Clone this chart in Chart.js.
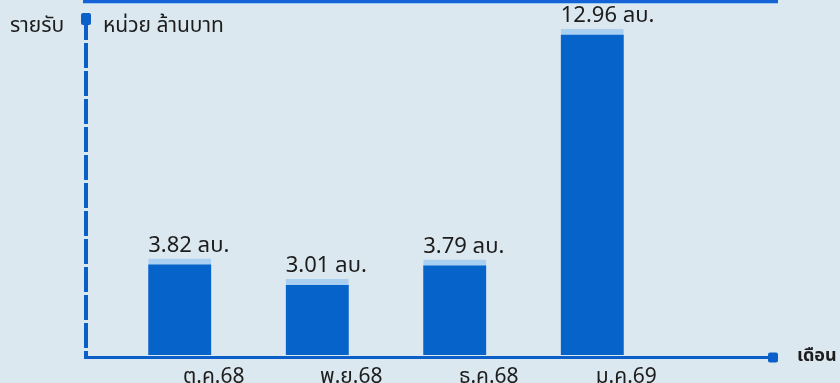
<!DOCTYPE html>
<html>
<head>
<meta charset="utf-8">
<script src="https://cdn.jsdelivr.net/npm/chart.js@4.4.1/dist/chart.umd.min.js"></script>
<style>
  html, body { margin: 0; padding: 0; background: #dce8ef; }
  #wrap { position: relative; width: 840px; height: 383px; overflow: hidden; }
  #topband { position: absolute; left: 83px; top: 0; width: 695px; height: 3px; background: #1462d6; border-bottom: 1px solid #9ccbf2; }
</style>
</head>
<body>
<div id="wrap">
  <div id="topband"></div>
  <canvas id="revChart"></canvas>
</div>
<script>
// data
const months = ['ต.ค.68', 'พ.ย.68', 'ธ.ค.68', 'ม.ค.69'];
const revenue = [3.82, 3.01, 3.79, 12.96];
const valueLabels = ['3.82 ลบ.', '3.01 ลบ.', '3.79 ลบ.', '12.96 ลบ.'];
const yTitle = 'รายรับ';
const unitText = 'หน่วย ล้านบาท';
const xTitle = 'เดือน';

const FONT = '"Noto Sans Thai", "Noto Sans", "DejaVu Sans", sans-serif';
const AXIS_BLUE = '#0a5fc9';

// axis lines, caps and titles
const axisDeco = {
    id: 'axisDeco',
    beforeDatasetsDraw(chart) {
        const { ctx, chartArea: ca } = chart;
        const ax = ca.left - 25;
        const ay = ca.bottom + 2.5;
        ctx.save();
        ctx.strokeStyle = AXIS_BLUE;
        ctx.fillStyle = AXIS_BLUE;

        // y axis (dashed)
        ctx.lineWidth = 4;
        ctx.setLineDash([25, 3]);
        ctx.beginPath();
        ctx.moveTo(ax, ca.top + 12);
        ctx.lineTo(ax, ay + 1);
        ctx.stroke();
        ctx.setLineDash([]);
        ctx.beginPath();
        ctx.roundRect(ax - 5, ca.top + 10, 10, 12, 2);
        ctx.fill();

        // x axis
        ctx.lineWidth = 3;
        ctx.beginPath();
        ctx.moveTo(ax - 2, ay);
        ctx.lineTo(ca.right + 110, ay);
        ctx.stroke();
        ctx.beginPath();
        ctx.roundRect(ca.right + 107, ay - 5, 10, 10, 2);
        ctx.fill();

        // titles
        ctx.fillStyle = '#1d1d1d';
        ctx.textBaseline = 'middle';
        ctx.font = '21px ' + FONT;
        ctx.textAlign = 'left';
        ctx.fillText(yTitle, 10, 28);
        ctx.fillText(unitText, ax + 17, 28);
        ctx.font = 'bold 18px ' + FONT;
        ctx.fillText(xTitle, ca.right + 136, ay);
        ctx.restore();
    },
    afterDatasetsDraw(chart) {
        const { ctx } = chart;
        const meta = chart.getDatasetMeta(0);
        ctx.save();
        ctx.fillStyle = '#1d1d1d';
        ctx.font = '22px ' + FONT;
        ctx.textAlign = 'left';
        ctx.textBaseline = 'alphabetic';
        meta.data.forEach((bar, i) => {
            ctx.fillText(valueLabels[i], bar.x - bar.width / 2, bar.y - 7);
        });
        ctx.restore();
    }
};

new Chart(document.getElementById('revChart'), {
    type: 'bar',
    data: {
        labels: months,
        datasets: [{
            data: revenue,
            backgroundColor: '#0563c9',
            borderColor: '#a9d0f1',
            borderWidth: { top: 6, left: 0, right: 0, bottom: 0 },
            borderSkipped: 'start',
            barThickness: 63
        }]
    },
    options: {
        responsive: true,
        maintainAspectRatio: false,
        animation: false,
        layout: { padding: { left: 111, right: 179, top: 3, bottom: 0 } },
        plugins: {
            legend: { display: false },
            tooltip: { enabled: false }
        },
        scales: {
            x: {
                grid: { display: false, drawTicks: false },
                border: { display: false },
                afterFit: s => { s.height = 28; },
                ticks: {
                    color: '#1d1d1d',
                    font: { size: 21, family: FONT },
                    padding: 11,
                    labelOffset: 34,
                    maxRotation: 0
                }
            },
            y: {
                display: false,
                min: 0,
                max: 14
            }
        }
    },
    plugins: [axisDeco]
});
</script>
</body>
</html>
